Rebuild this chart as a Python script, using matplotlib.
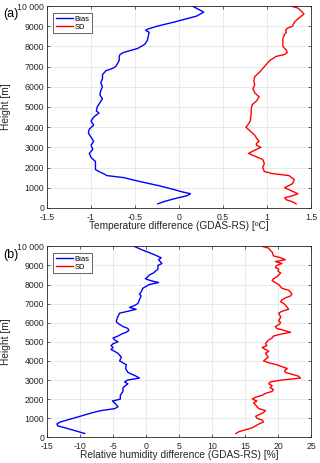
import matplotlib
matplotlib.use("Agg")
import matplotlib.pyplot as plt
import numpy as np

plt.rcParams['font.family'] = ['Liberation Sans', 'DejaVu Sans']

# ---- Panel (a): temperature ----
t_bias_h = [200, 300, 400, 500, 600, 700, 800, 900, 1100, 1300, 1500, 1600, 1700, 1800, 1900,
            2100, 2300, 2500, 2700, 2900, 3100, 3300, 3500, 3700, 3900, 4100, 4300, 4500, 4700,
            4800, 5000, 5200, 5400, 5600, 5800, 6000, 6200, 6400, 6600, 6800, 6900, 7000, 7300,
            7500, 7600, 7700, 7800, 7900, 8100, 8300, 8500, 8700, 8800, 8850, 9000, 9200, 9500,
            9700, 10000]
t_bias = [-0.24, -0.18, -0.10, -0.01, 0.09, 0.13, 0.03, -0.05, -0.23, -0.44, -0.63, -0.82, -0.86,
          -0.91, -0.95, -0.95, -0.95, -1.00, -1.02, -0.98, -1.00, -0.97, -1.00, -1.03, -1.02,
          -0.97, -1.00, -0.97, -0.91, -0.94, -0.93, -0.90, -0.87, -0.90, -0.89, -0.87, -0.89,
          -0.87, -0.87, -0.83, -0.76, -0.72, -0.68, -0.68, -0.67, -0.63, -0.55, -0.47, -0.39,
          -0.36, -0.35, -0.34, -0.38, -0.36, -0.25, -0.06, 0.20, 0.28, 0.15]

t_sd_h = [200, 300, 400, 500, 600, 700, 900, 1000, 1200, 1400, 1600, 1700, 1800, 2000, 2200,
          2400, 2600, 2700, 2900, 3000, 3100, 3200, 3300, 3400, 3600, 3800, 4000, 4100, 4300,
          4700, 4900, 5100, 5300, 5500, 5700, 5900, 6100, 6300, 6500, 6700, 6900, 7100, 7300,
          7500, 7600, 7700, 7800, 8000, 8200, 8400, 8600, 8700, 8800, 8900, 9000, 9200, 9400,
          9600, 9700, 9900, 10000]
t_sd = [1.33, 1.29, 1.22, 1.20, 1.29, 1.35, 1.25, 1.20, 1.29, 1.31, 1.25, 1.06, 0.97, 0.95, 0.97,
        0.95, 0.84, 0.79, 0.88, 0.93, 0.88, 0.88, 0.91, 0.89, 0.86, 0.81, 0.76, 0.78, 0.81,
        0.82, 0.82, 0.83, 0.88, 0.91, 0.86, 0.84, 0.86, 0.85, 0.86, 0.91, 0.95, 0.99, 1.03,
        1.10, 1.20, 1.23, 1.22, 1.18, 1.18, 1.18, 1.20, 1.22, 1.21, 1.23, 1.29, 1.31, 1.36,
        1.42, 1.40, 1.35, 1.27]

# ---- Panel (b): relative humidity ----
rh_bias_h = [200, 300, 400, 500, 600, 700, 800, 900, 1100, 1300, 1400, 1500, 1600, 1700, 1800,
             1900, 2000, 2200, 2400, 2600, 2800, 2900, 3000, 3100, 3200, 3400, 3600, 3800, 4000,
             4200, 4400, 4600, 4700, 4800, 4900, 5000, 5100, 5200, 5300, 5400, 5500, 5600, 5700,
             5800, 6000, 6100, 6300, 6500, 6600, 6700, 6800, 6900, 7000, 7200, 7400, 7500, 7600,
             7800, 7900, 8000, 8100, 8200, 8300, 8400, 8500, 8600, 8800, 9000, 9100, 9300, 9400,
             9600, 9800, 10000]
rh_bias = [-9.3, -10.3, -11.3, -12.3, -13.4, -13.5, -13.0, -12.0, -10.0, -8.0, -6.8, -4.75, -4.25,
           -4.5, -4.75, -5.1, -3.9, -3.9, -3.5, -3.5, -2.75, -3.25, -2.75, -1.0, -1.5, -2.75,
           -3.1, -3.0, -4.0, -3.75, -4.25, -5.3, -5.0, -5.3, -5.0, -4.25, -4.75, -5.0, -4.25,
           -3.75, -3.0, -2.6, -2.75, -3.5, -4.4, -4.5, -4.3, -4.0, -2.75, -1.5, -2.5, -1.75,
           -1.25, -1.0, -0.75, -1.0, -0.75, -0.5, 0.0, 0.5, 1.9, 0.75, -0.1, 0.25, 0.5, 1.1,
           1.8, 1.8, 2.4, 1.9, 2.3, 1.0, -0.5, -1.8]

rh_sd_h = [200, 300, 400, 500, 600, 700, 800, 900, 1000, 1100, 1300, 1400, 1500, 1600, 1700,
           1800, 1900, 2000, 2100, 2200, 2300, 2400, 2500, 2600, 2700, 2800, 2900, 3000, 3100,
           3200, 3300, 3400, 3500, 3600, 3700, 3800, 3900, 4000, 4200, 4400, 4500, 4600, 4700,
           4800, 4900, 5000, 5100, 5200, 5300, 5400, 5500, 5600, 5700, 5800, 5900, 6000, 6100,
           6300, 6500, 6600, 6700, 6800, 7000, 7100, 7200, 7300, 7400, 7500, 7600, 7700, 7800,
           8000, 8100, 8200, 8300, 8400, 8600, 8700, 8800, 8900, 9000, 9100, 9200, 9300, 9400,
           9500, 9700, 9800, 9900, 10000]
rh_sd = [13.6, 14.1, 15.1, 16.1, 16.6, 17.1, 17.8, 17.6, 16.8, 16.6, 17.8, 18.1, 17.1, 16.8, 16.6,
         16.3, 16.8, 16.1, 16.6, 17.6, 18.1, 19.1, 19.3, 18.8, 19.1, 18.6, 18.8, 20.6, 23.4,
         23.1, 22.1, 21.1, 21.0, 21.4, 20.6, 19.8, 18.6, 17.8, 18.5, 18.1, 18.6, 18.1, 17.6,
         18.3, 18.1, 18.3, 18.6, 19.1, 19.3, 20.4, 21.9, 20.9, 19.8, 19.6, 20.1, 20.4, 20.1,
         20.4, 20.1, 20.6, 21.6, 21.4, 20.9, 20.4, 20.6, 21.1, 21.9, 22.1, 21.9, 21.6, 20.6,
         20.1, 19.6, 19.1, 19.3, 19.8, 20.4, 20.0, 20.1, 19.6, 19.8, 20.6, 19.6, 21.1, 20.4,
         19.3, 19.1, 18.8, 18.6, 17.6]

t_xticks = [-1.5, -1, -0.5, 0, 0.5, 1, 1.5]
t_xticklabels = ['-1.5', '-1', '-0.5', '0', '0.5', '1', '1.5']
rh_xticks = [-15, -10, -5, 0, 5, 10, 15, 20, 25]
rh_xticklabels = ['-15', '-10', '-5', '0', '5', '10', '15', '20', '25']
yticks = [0, 1000, 2000, 3000, 4000, 5000, 6000, 7000, 8000, 9000, 10000]
yticklabels = ['0', '1000', '2000', '3000', '4000', '5000', '6000', '7000', '8000', '9000', '10 000']

fig = plt.figure(figsize=(3.2, 4.63), dpi=100)
ax1 = fig.add_axes([0.147, 0.551, 0.825, 0.436])
ax2 = fig.add_axes([0.147, 0.0555, 0.825, 0.4125])

def style(ax, xlim, xticks, xticklabels, xlabel, h_px):
    ax.set_xlim(xlim)
    ax.set_ylim(0, 10000)
    ax.set_xticks(xticks)
    ax.set_xticklabels(xticklabels)
    ax.set_yticks(yticks)
    ax.set_yticklabels(yticklabels)
    ax.grid(True, color='#e6e6e6', linewidth=0.6)
    ax.set_axisbelow(True)
    ax.tick_params(direction='in', length=2.5, width=0.5, labelsize=6.3, colors='#262626',
                   top=True, right=True, pad=2)
    ax.tick_params(axis='x', pad=3.5)
    for s in ax.spines.values():
        s.set_color('#262626')
        s.set_linewidth(0.6)
    ax.set_xlabel(xlabel, fontsize=7.3, color='#262626')
    ax.xaxis.set_label_coords(0.5, -13 / h_px)
    ax.set_ylabel('Height [m]', fontsize=7.3, color='#262626')
    ax.yaxis.set_label_coords(-36 / 264, 0.5)
    leg = ax.legend(loc='upper left', fontsize=5.5, handlelength=2.3, handletextpad=0.15,
                    borderpad=0.3, labelspacing=0.1, fancybox=False, framealpha=1,
                    edgecolor='#262626', bbox_to_anchor=(0.024, 0.964), borderaxespad=0)
    leg.get_frame().set_linewidth(0.5)

ax1.plot(t_bias, t_bias_h, color='#0000ff', linewidth=1.0, label='Bias')
ax1.plot(t_sd, t_sd_h, color='#ff0000', linewidth=1.0, label='SD')
style(ax1, (-1.5, 1.5), t_xticks, t_xticklabels, 'Temperature difference (GDAS-RS) [ºC]', 202)

ax2.plot(rh_bias, rh_bias_h, color='#0000ff', linewidth=1.0, label='Bias')
ax2.plot(rh_sd, rh_sd_h, color='#ff0000', linewidth=1.0, label='SD')
style(ax2, (-15, 25), rh_xticks, rh_xticklabels, 'Relative humidity difference (GDAS-RS) [%]', 191)

fig.text(3 / 320, 1 - 13.5 / 463, '(a)', fontsize=9, va='center', ha='left')
fig.text(3 / 320, 1 - 255 / 463, '(b)', fontsize=9, va='center', ha='left')

fig.savefig('out.png', dpi=100)
